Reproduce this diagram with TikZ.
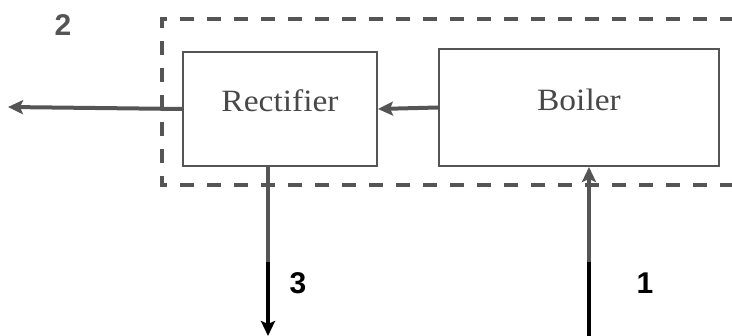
\documentclass[tikz,border=0pt]{standalone}
\usepackage{fontspec}
\setmainfont{Liberation Serif}
\newfontfamily\boxfont[FakeStretch=1.08]{Liberation Serif}
\newfontfamily\labfont{Liberation Sans}
\usetikzlibrary{arrows.meta}
\definecolor{ink}{RGB}{85,85,85}
\begin{document}
\begin{tikzpicture}[x=1pt,y=-1pt,
  unit/.style={draw=ink,line width=2pt,minimum width=#1,inner sep=0pt,text height=20pt,text depth=14pt,font=\boxfont\fontsize{31}{32}\selectfont,text=ink!85!black},
  flow/.style={line width=4pt,-{Stealth[length=15pt,width=14pt,inset=3pt]}},
  num/.style={font=\labfont\bfseries\fontsize{30}{30}\selectfont},
  boundary/.style={draw=ink,line width=3.5pt,dash pattern=on 14pt off 13pt}]
\useasboundingbox (0,0) rectangle (732,336);
% system boundary
\coordinate (bTR) at (734,19);
\coordinate (bTL) at (162,19);
\coordinate (bBL) at (162,185);
\coordinate (bBR) at (734,185);
\draw[boundary] (bTR) -- (bTL) -- (bBL) -- (bBR);
% units
\node[unit=194pt,minimum height=114pt] (rect) at (280,109) {Rectifier};
\node[unit=280pt,minimum height=117pt] (boiler) at (579,107.5) {Boiler};
% connectors
\coordinate (out2) at (8,107);
\coordinate (o3) at (268,336);
\coordinate (o3b) at (268,262);
\coordinate (i1) at (589,336);
\coordinate (i1b) at (589,262);
\coordinate (r3) at (268,166);
\draw[flow,draw=ink,fill=ink] (boiler.west) -- (rect.east);
\draw[flow,draw=ink,fill=ink] (rect.west) -- (out2);
\draw[line width=3.5pt,draw=ink] (r3) -- (o3b);
\draw[flow,line width=3.5pt,draw=black,fill=black] (o3b) -- (o3);
\draw[line width=3.5pt,draw=black] (i1) -- (i1b);
\draw[flow,line width=3.5pt,draw=ink,fill=ink] (i1b) -- (i1 |- boiler.south);
% labels
\node[num,text=ink] (l2) at (63,25) {2};
\node[num] (l3) at (298,283) {3};
\node[num] (l1) at (645,283) {1};
\end{tikzpicture}
\end{document}
